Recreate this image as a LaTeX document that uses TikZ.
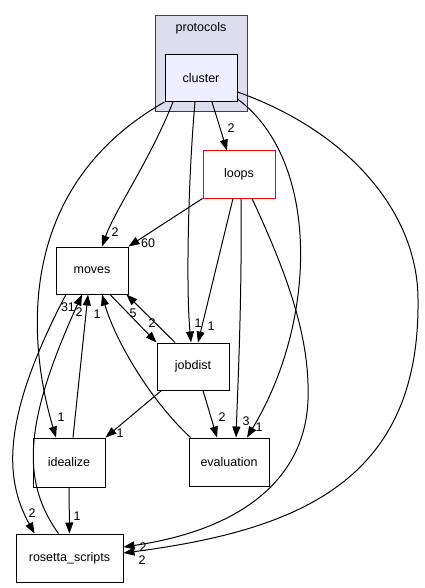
\documentclass[tikz,border=0pt]{standalone}
\usepackage{fontspec}
\setmainfont{Liberation Sans}
\usepackage{xcolor}
\usetikzlibrary{arrows.meta}
\definecolor{parentfill}{HTML}{DDDDEE}
\definecolor{curfill}{HTML}{EEEEFF}
\tikzstyle{dirnode} = [rectangle, draw=black, line width=1pt, minimum width=72pt,
    minimum height=47pt, inner sep=0pt, font=\fontsize{12.5}{14}\selectfont]
\tikzstyle{curdir} = [dirnode, fill=curfill]
\tikzstyle{subdir} = [dirnode, draw=red]
\tikzstyle{parentbox} = [rectangle, draw=black!75, fill=parentfill, line width=1pt,
    minimum width=92pt, minimum height=96pt, inner sep=0pt]
\tikzstyle{edge} = [line width=1pt, -{Triangle[length=11pt,width=8pt]}]
\tikzstyle{elabel} = [font=\fontsize{12.5}{14}\selectfont, inner sep=0pt]

\begin{document}
\begin{tikzpicture}[x=1pt, y=-1pt]
  \useasboundingbox (0,0) rectangle (424,588);
  % Directories
  \node[parentbox](protocols) at (201,64){};
  \node[font=\fontsize{12.5}{14}\selectfont](protocolslbl) at (201,28){protocols};
  \node[curdir](cluster) at (201,78){cluster};
  \node[subdir](loops) at (239,174.5){loops};
  \node[dirnode](moves) at (92,270.5){moves};
  \node[dirnode](jobdist) at (193,366.5){jobdist};
  \node[dirnode, minimum width=80pt, minimum height=48pt](evaluation) at (229,462){evaluation};
  \node[dirnode, minimum height=49pt](idealize) at (69,462.5){idealize};
  \node[dirnode, minimum width=107pt, minimum height=48pt](rosetta) at (69.5,558){rosetta\_scripts};

  % From cluster
  \draw[edge]([xshift=11pt]cluster.south) -- ([xshift=-12pt]loops.north)
    node[elabel] at (231,128){2};
  \draw[edge]([xshift=-28pt]cluster.south) .. controls (150,160) and (115,210) .. ([xshift=10pt]moves.north)
    node[elabel] at (115,232){2};
  \draw[edge](cluster.south west) .. controls (10,190) and (30,350) .. ([xshift=-13pt]idealize.north)
    node[elabel] at (61,417){1};
  \draw[edge]([xshift=-6pt]cluster.south) .. controls (188,180) and (186,290) .. ([xshift=-2pt]jobdist.north)
    node[elabel] at (198,323){1};
  \draw[edge]([yshift=-21pt]cluster.east) .. controls (320,160) and (318,320) .. ([xshift=18pt]evaluation.north)
    node[elabel] at (259,427){1};
  \draw[edge]([yshift=-14pt]cluster.east) .. controls (345,130) and (418,210) .. (418,300)
    .. controls (420,480) and (300,530) .. ([yshift=5pt]rosetta.east)
    node[elabel] at (142,560){2};

  % From loops
  \draw[edge](loops.south west) -- (moves.north east)
    node[elabel] at (148,243){60};
  \draw[edge]([xshift=-6pt]loops.south) -- ([xshift=5pt]jobdist.north)
    node[elabel] at (211,326){1};
  \draw[edge]([xshift=2pt]loops.south) .. controls (242,300) and (238,380) .. ([xshift=7pt]evaluation.north)
    node[elabel] at (246,421){3};
  \draw[edge]([xshift=13pt]loops.south) .. controls (290,280) and (310,340) .. (308,400)
    .. controls (305,480) and (240,530) .. ([yshift=11pt]rosetta.east)
    node[elabel] at (143,547){2};

  % Between moves and jobdist
  \draw[edge]([xshift=18pt]moves.south) -- (jobdist.north west)
    node[elabel] at (152,323){2};
  \draw[edge]([xshift=-18pt]jobdist.north) -- ([xshift=-2pt]moves.south east)
    node[elabel] at (133,313){5};

  % Into moves from below
  \draw[edge]([xshift=-26pt]moves.south) .. controls (0,420) and (5,480) .. ([xshift=-35pt]rosetta.north)
    node[elabel] at (32,513){2};
  \draw[edge]([xshift=-11pt]rosetta.north) .. controls (20,480) and (25,420) .. ([xshift=-10pt]moves.south)
    node[elabel] at (68,307){31};
  \draw[edge]([xshift=4pt]idealize.north) -- ([xshift=-4pt]moves.south)
    node[elabel] at (79,312){2};
  \draw[edge]([xshift=2pt]evaluation.north west) .. controls (150,400) and (115,340) .. ([xshift=10pt]moves.south)
    node[elabel] at (97,314){1};

  % From jobdist and idealize
  \draw[edge]([xshift=5pt]jobdist.south west) -- (idealize.north east)
    node[elabel] at (120,433){1};
  \draw[edge]([xshift=10pt]jobdist.south) -- ([xshift=-12pt]evaluation.north)
    node[elabel] at (222,417){2};
  \draw[edge](idealize) -- (rosetta)
    node[elabel] at (77,516){1};
\end{tikzpicture}
\end{document}
